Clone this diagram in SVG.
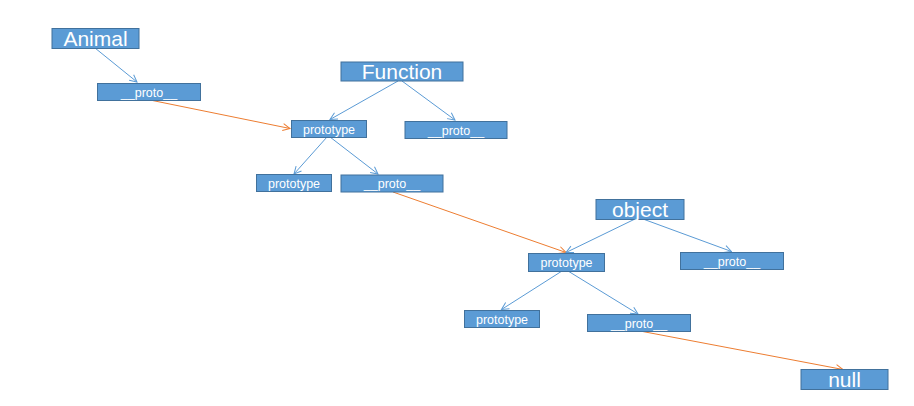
<svg xmlns="http://www.w3.org/2000/svg" width="914" height="406" viewBox="0 0 914 406">
<defs>
<style>
.box{fill:#5B9BD5;stroke:#41719C;stroke-width:1}
.big{font-family:"Liberation Sans",Arial,sans-serif;font-size:21px;fill:#fff;text-anchor:middle}
.sm{font-family:"Liberation Sans",Arial,sans-serif;font-size:12.5px;fill:#fff;text-anchor:middle}
.b{stroke:#5B9BD5;stroke-width:1;fill:none;marker-end:url(#ab)}
.o{stroke:#ED7D31;stroke-width:1;fill:none;marker-end:url(#ao)}
</style>
<marker id="ab" viewBox="0 0 10 10" refX="9" refY="5" markerWidth="9" markerHeight="9" markerUnits="userSpaceOnUse" orient="auto">
<path d="M1,1 L9,5 L1,9" fill="none" stroke="#5B9BD5" stroke-width="1.1"/>
</marker>
<marker id="ao" viewBox="0 0 10 10" refX="9" refY="5" markerWidth="9" markerHeight="9" markerUnits="userSpaceOnUse" orient="auto">
<path d="M1,1 L9,5 L1,9" fill="none" stroke="#ED7D31" stroke-width="1.1"/>
</marker>
</defs>
<rect width="914" height="406" fill="#fff"/>
<g id="connectors">
<line class="b" x1="95" y1="48" x2="137" y2="82"/>
<line class="o" x1="150" y1="100" x2="290" y2="128.5"/>
<line class="b" x1="398" y1="81" x2="330" y2="119.5"/>
<line class="b" x1="402" y1="81" x2="455" y2="120"/>
<line class="b" x1="327" y1="137" x2="294" y2="174"/>
<line class="b" x1="330" y1="137" x2="378" y2="174"/>
<line class="o" x1="393" y1="192" x2="566" y2="252.5"/>
<line class="b" x1="635" y1="219" x2="566" y2="252.5"/>
<line class="b" x1="643" y1="219" x2="731.5" y2="251.5"/>
<line class="b" x1="562" y1="271" x2="501.5" y2="309.5"/>
<line class="b" x1="568" y1="271" x2="638" y2="314"/>
<line class="o" x1="640" y1="331" x2="843" y2="369.5"/>
</g>
<g id="animal"><rect class="box" x="52" y="28.5" width="87" height="20"/><text class="big" x="95.5" y="46">Animal</text></g>
<g id="animal-proto"><rect class="box" x="97.5" y="83.5" width="103" height="17"/><text class="sm" x="149" y="96.5">__proto__</text></g>
<g id="function"><rect class="box" x="341" y="62" width="122" height="19"/><text class="big" x="402" y="79">Function</text></g>
<g id="function-prototype"><rect class="box" x="291.5" y="120.5" width="75" height="17"/><text class="sm" x="329" y="133.5">prototype</text></g>
<g id="function-proto"><rect class="box" x="405" y="121.5" width="102" height="17"/><text class="sm" x="456" y="134.5">__proto__</text></g>
<g id="fp-prototype"><rect class="box" x="256.5" y="174.5" width="75" height="17"/><text class="sm" x="294" y="187.5">prototype</text></g>
<g id="fp-proto"><rect class="box" x="341" y="175" width="102" height="17"/><text class="sm" x="392" y="188">__proto__</text></g>
<g id="object"><rect class="box" x="596" y="199.5" width="88" height="20"/><text class="big" x="640" y="217">object</text></g>
<g id="object-prototype"><rect class="box" x="528.5" y="253.5" width="76" height="18"/><text class="sm" x="566.5" y="267">prototype</text></g>
<g id="object-proto"><rect class="box" x="680.5" y="252.5" width="103" height="17"/><text class="sm" x="732" y="265.5">__proto__</text></g>
<g id="op-prototype"><rect class="box" x="464.5" y="310.5" width="75" height="17"/><text class="sm" x="502" y="323.5">prototype</text></g>
<g id="op-proto"><rect class="box" x="587.5" y="314.5" width="103" height="17"/><text class="sm" x="639" y="327.5">__proto__</text></g>
<g id="null"><rect class="box" x="801" y="369.5" width="87" height="20"/><text class="big" x="844.5" y="387">null</text></g>
</svg>
